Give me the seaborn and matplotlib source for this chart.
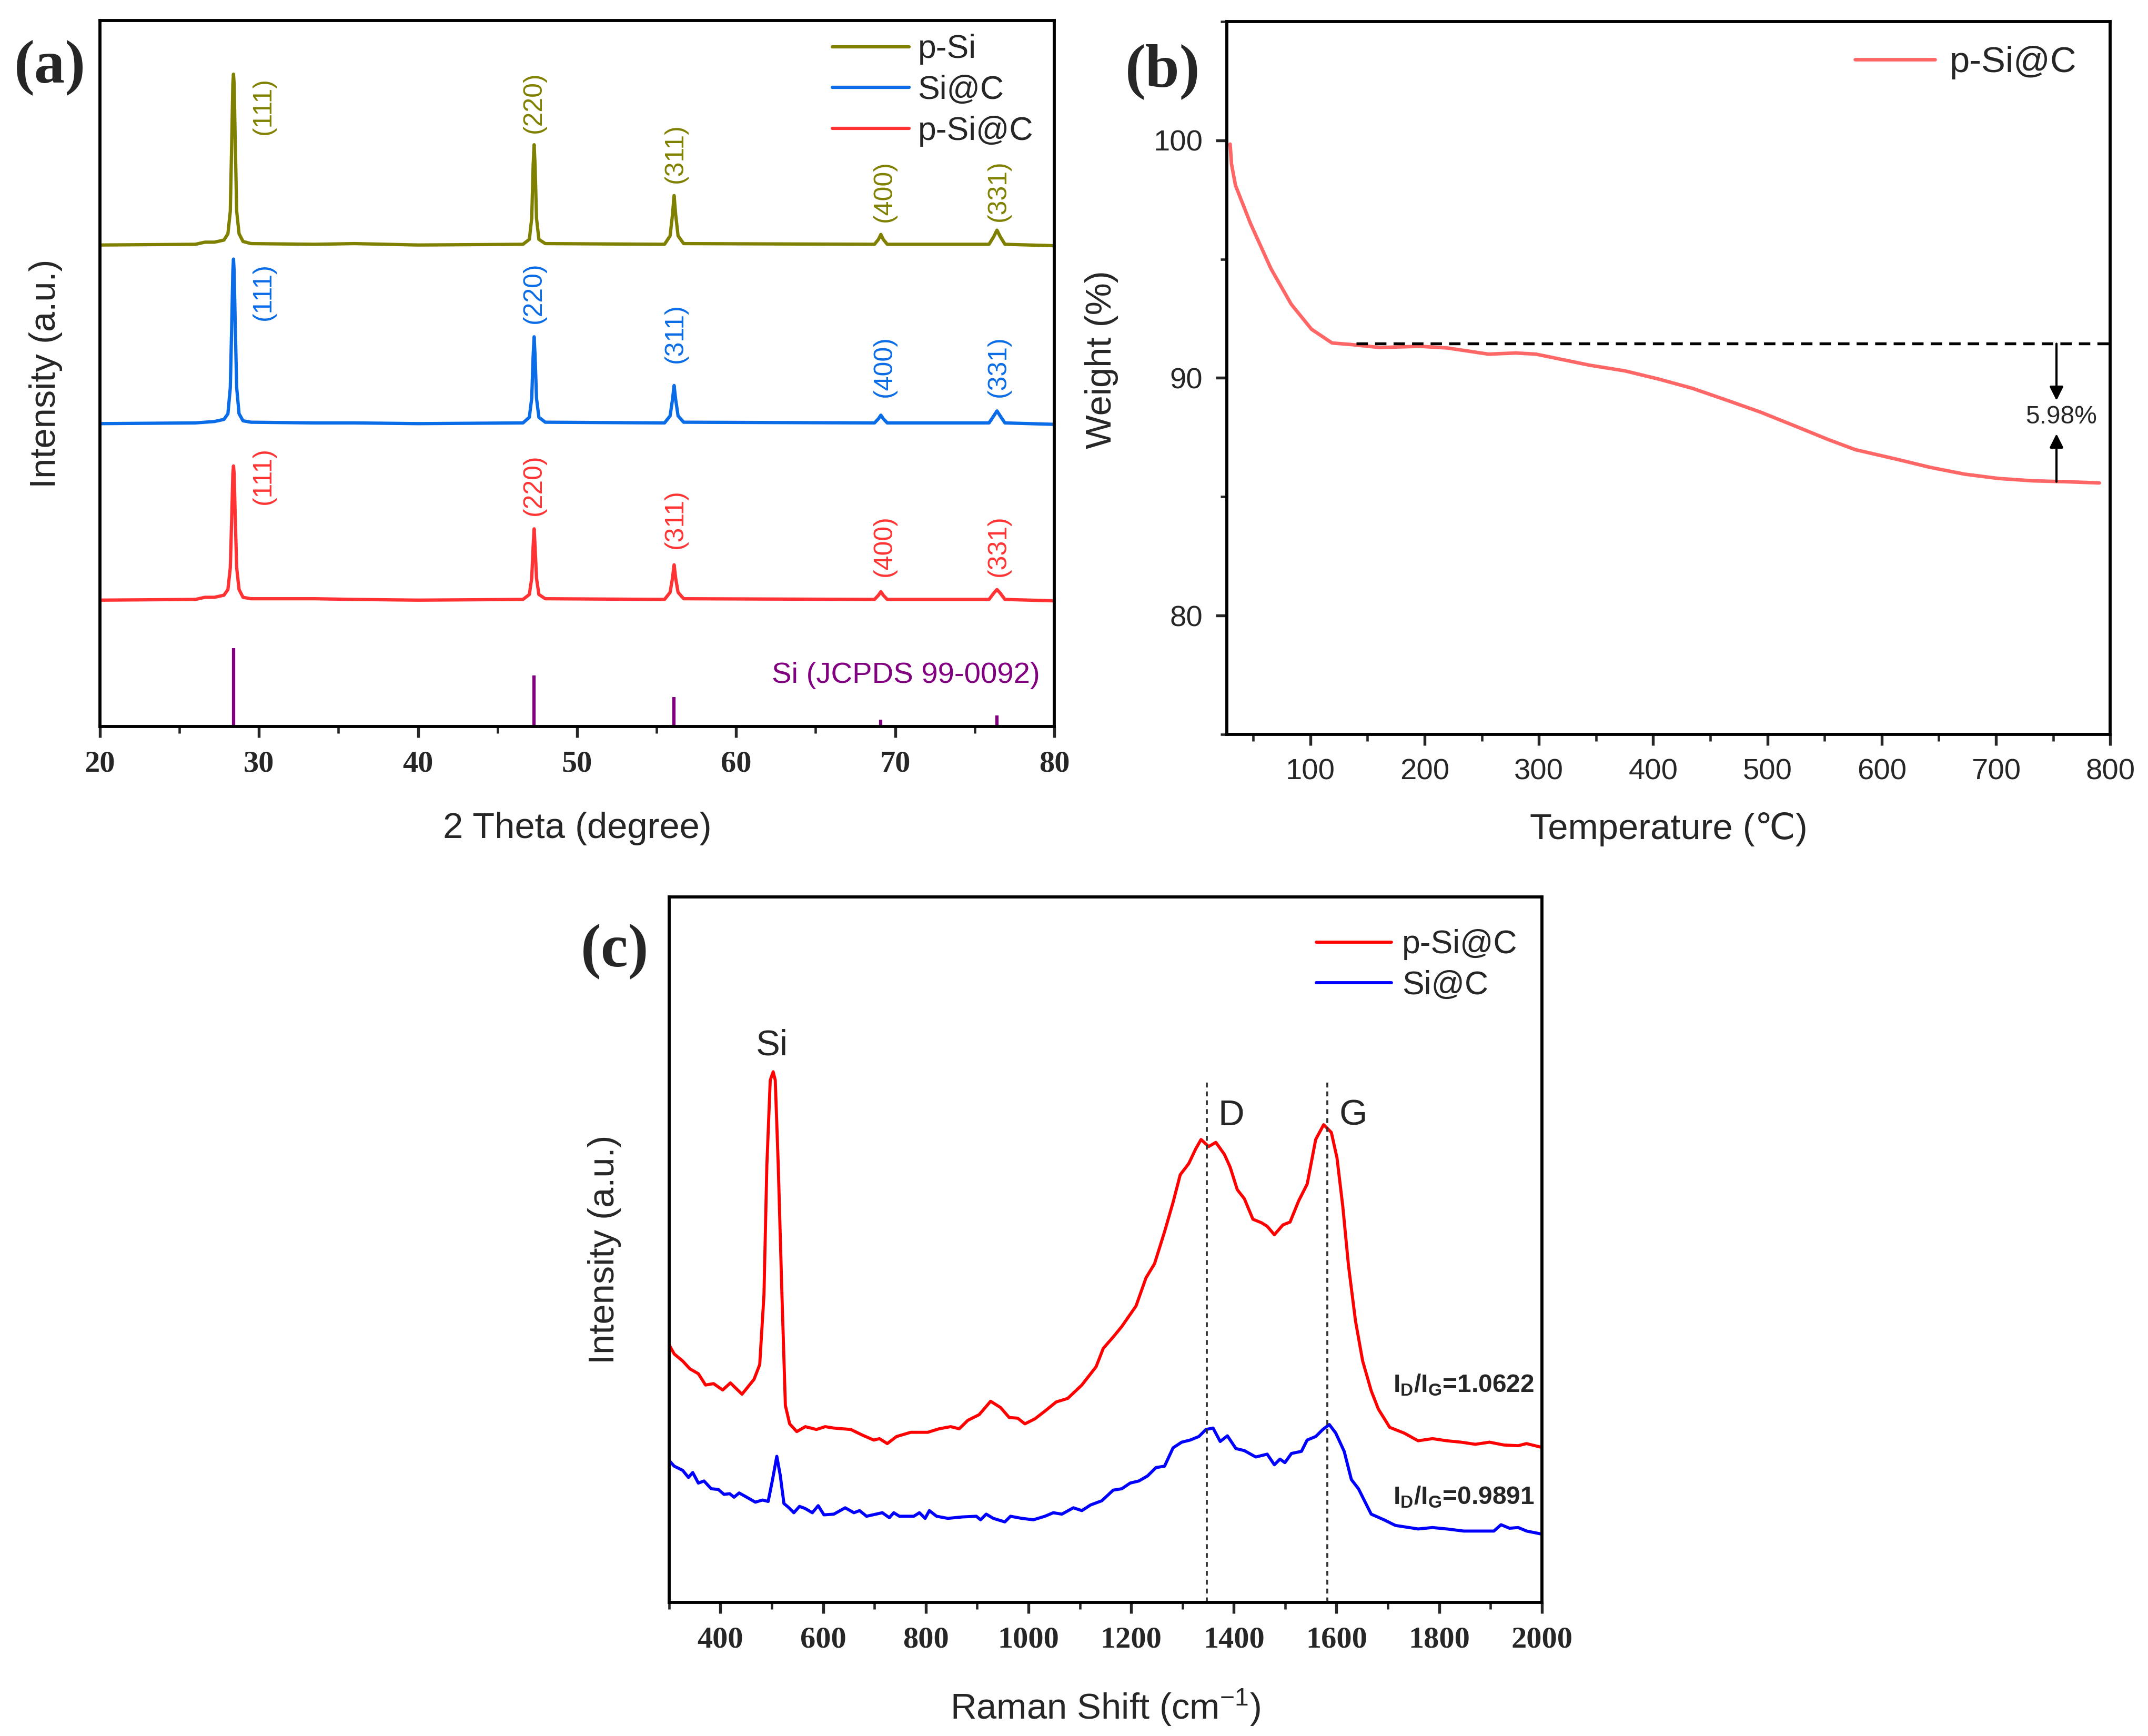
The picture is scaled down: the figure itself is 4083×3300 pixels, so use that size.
import matplotlib
matplotlib.use("Agg")
import matplotlib.pyplot as plt
import seaborn as sns
from matplotlib.ticker import MultipleLocator

# (a) XRD patterns, intensity in arbitrary units (0-100 of the axes)
xrd_2theta = [20.0, 26.0, 26.6, 27.2, 27.8, 28.05, 28.2, 28.3, 28.36, 28.4,
              28.44, 28.5, 28.6, 28.75, 29.0, 29.5, 33.5, 36.0, 40.0, 46.6,
              47.0, 47.15, 47.24, 47.3, 47.36, 47.45, 47.6, 48.0, 55.5, 55.85,
              56.0, 56.1, 56.2, 56.35, 56.7, 68.7, 68.95, 69.1, 69.25, 69.5,
              75.9, 76.2, 76.4, 76.6, 76.9, 80.0]
xrd_psi = [68.2, 68.3, 68.6, 68.6, 68.9, 69.8, 73.0, 84.0, 91.0, 92.4,
           91.0, 84.0, 73.0, 69.8, 68.7, 68.4, 68.3, 68.4, 68.2, 68.3,
           69.0, 72.0, 79.5, 82.4, 79.5, 72.0, 69.0, 68.4, 68.3, 69.5,
           72.5, 75.2, 72.5, 69.5, 68.4, 68.3, 69.0, 69.7, 69.0, 68.3,
           68.3, 69.4, 70.3, 69.4, 68.3, 68.1]
xrd_sic = [42.9, 43.0, 43.1, 43.2, 43.5, 44.3, 48.0, 58.0, 64.5, 66.2,
           64.5, 58.0, 48.0, 44.3, 43.3, 43.1, 43.0, 43.0, 42.9, 43.0,
           43.8, 46.5, 52.5, 55.2, 52.5, 46.5, 43.8, 43.1, 43.0, 44.0,
           46.3, 48.3, 46.3, 44.0, 43.1, 43.0, 43.6, 44.1, 43.6, 43.0,
           43.0, 44.0, 44.7, 44.0, 43.0, 42.8]
xrd_psic = [17.9, 18.0, 18.3, 18.3, 18.6, 19.4, 22.5, 30.5, 35.8, 36.9,
            35.8, 30.5, 22.5, 19.4, 18.3, 18.1, 18.1, 18.0, 17.9, 18.0,
            18.7, 21.0, 25.5, 28.0, 25.5, 21.0, 18.7, 18.1, 18.0, 19.0,
            21.0, 22.9, 21.0, 19.0, 18.1, 18.0, 18.6, 19.1, 18.6, 18.0,
            18.0, 18.9, 19.4, 18.9, 18.0, 17.8]
ref_pos = [28.4, 47.3, 56.1, 69.1, 76.4]
ref_height = [11.1, 7.2, 4.2, 1.0, 1.6]
hkl = ["(111)", "(220)", "(311)", "(400)", "(331)"]
hkl_x = [30.3, 47.3, 56.2, 69.3, 76.5]
hkl_y_psi = [87.9, 88.4, 81.2, 75.8, 75.9]
hkl_y_sic = [61.6, 61.4, 55.7, 51.0, 51.0]
hkl_y_psic = [35.5, 34.2, 29.4, 25.6, 25.6]

# (b) TGA of p-Si@C
tga_temp = [29.8, 31.0, 34.5, 47.6, 65.5, 83.3, 101, 119, 137, 160.7,
            196, 220, 256, 280, 297.6, 345, 375, 405, 434.5, 464,
            494, 524, 553.6, 577, 613, 643, 672.6, 702, 732, 762, 790.5]
tga_weight = [99.84, 99.0, 98.1, 96.5, 94.6, 93.1, 92.05, 91.47, 91.4, 91.28,
              91.33, 91.26, 91.0, 91.05, 91.0, 90.53, 90.3, 89.95, 89.56, 89.07,
              88.56, 87.98, 87.4, 86.98, 86.58, 86.23, 85.95, 85.77, 85.67, 85.63, 85.58]

# (c) Raman spectra, intensity in arbitrary units (0-100 of the axes)
raman_x_psic = [300, 310, 326.5, 340.5, 357, 371, 386.6, 404.3, 419.4, 442,
                465.4, 476.5, 484.8, 490.4, 497, 502.7, 506.8, 512.6, 519.8, 526.5,
                534.8, 548.7, 565.4, 587, 604, 620.9, 654, 676.5, 698.7, 709.7,
                725, 743, 770.8, 804, 826, 848.6, 865, 882, 904, 926.3,
                945.8, 962.4, 979, 993, 1012.4, 1032, 1054, 1076.4, 1104, 1131.8,
                1145.7, 1165, 1181.8, 1209.5, 1229, 1245.6, 1265, 1281.7, 1295.6, 1312.3,
                1326, 1336.2, 1351, 1365, 1381.6, 1392.8, 1406.7, 1420.6, 1437.2, 1454,
                1465, 1479, 1495.7, 1509.6, 1526.3, 1543, 1559.5, 1575, 1590, 1601,
                1612.3, 1623.3, 1637, 1651, 1667.6, 1681.5, 1703.7, 1731.5, 1759, 1787,
                1815, 1842.7, 1870.5, 1898, 1926, 1954, 1970, 1998]
raman_i_psic = [36.5, 35.2, 34.2, 33.1, 32.4, 30.8, 31.0, 30.1, 31.1, 29.5,
                31.6, 33.7, 43.6, 61.9, 74.0, 75.2, 74.0, 61.9, 43.6, 27.9,
                25.3, 24.2, 24.9, 24.5, 24.9, 24.7, 24.5, 23.7, 23.0, 23.2,
                22.5, 23.5, 24.1, 24.1, 24.6, 24.9, 24.6, 25.8, 26.6, 28.5,
                27.6, 26.2, 26.1, 25.3, 26.0, 27.1, 28.4, 28.9, 30.8, 33.4,
                36.0, 37.6, 39.1, 42.0, 46.0, 48.0, 52.5, 56.7, 60.6, 62.2,
                64.3, 65.6, 64.6, 65.2, 63.5, 61.7, 58.5, 57.2, 54.3, 53.8,
                53.3, 52.1, 53.5, 53.9, 56.9, 59.3, 65.6, 67.7, 66.6, 63.0,
                56.1, 47.8, 39.9, 34.2, 30.0, 27.4, 24.8, 24.0, 22.9, 23.2,
                22.9, 22.7, 22.4, 22.7, 22.3, 22.2, 22.5, 22.0]
raman_x_sic = [300, 310, 326.5, 337.7, 346, 357, 368, 382, 395.8, 407,
               418, 426.5, 436.4, 448.8, 468, 482, 493, 501.5, 509.8, 516.5,
               523.7, 532, 543, 554, 565, 579, 590.4, 601.6, 620.9, 643,
               660, 671, 684.6, 715.3, 729, 737.6, 748.6, 776.5, 787.6, 798.7,
               807, 821, 843, 870.6, 898.4, 906.7, 917.7, 931.5, 954, 965,
               987, 1009.6, 1032, 1048.5, 1065, 1087.5, 1104, 1121, 1143, 1165,
               1181.8, 1198, 1215, 1231.7, 1248.5, 1265.1, 1281.7, 1298.5, 1315, 1331.9,
               1345.8, 1359.6, 1373.5, 1387.5, 1404, 1420.6, 1442.8, 1465, 1479, 1490,
               1499.5, 1512.3, 1531.8, 1542.8, 1559.5, 1573.4, 1586, 1598.5, 1615, 1629,
               1642.8, 1667.6, 1692.5, 1714.7, 1759, 1787, 1815, 1848, 1881.7, 1906.5,
               1920.5, 1937, 1954, 1970.5, 1998]
raman_i_sic = [20.1, 19.3, 18.7, 17.7, 18.4, 16.9, 17.2, 16.1, 16.0, 15.3,
               15.4, 14.9, 15.5, 15.0, 14.2, 14.5, 14.3, 17.4, 20.7, 18.0,
               14.0, 13.5, 12.7, 13.6, 13.3, 12.7, 13.7, 12.4, 12.5, 13.4,
               12.7, 13.0, 12.2, 12.7, 12.0, 12.7, 12.2, 12.2, 12.7, 11.9,
               13.0, 12.2, 11.9, 12.1, 12.2, 11.7, 12.5, 11.9, 11.4, 12.2,
               11.9, 11.7, 12.2, 12.7, 12.5, 13.4, 13.0, 13.8, 14.4, 15.9,
               16.1, 16.9, 17.2, 17.9, 19.1, 19.3, 21.9, 22.7, 23.0, 23.5,
               24.5, 24.7, 22.8, 23.6, 21.8, 21.5, 20.6, 21.0, 19.5, 20.3,
               19.8, 21.1, 21.4, 23.0, 23.5, 24.5, 25.2, 24.0, 21.4, 17.4,
               16.1, 12.5, 11.7, 10.9, 10.4, 10.6, 10.4, 10.1, 10.1, 10.1,
               11.0, 10.5, 10.6, 10.1, 9.7]
band_pos = [1347, 1582]
ratio_text = [r"I$_\mathbf{D}$/I$_\mathbf{G}$=1.0622", r"I$_\mathbf{D}$/I$_\mathbf{G}$=0.9891"]
ratio_y = [29.8, 13.9]

sns.set_style("ticks")
plt.rcParams["font.family"] = ["Liberation Sans", "DejaVu Sans"]
plt.rcParams["mathtext.fontset"] = "custom"
plt.rcParams["mathtext.rm"] = "Liberation Sans"
plt.rcParams["mathtext.it"] = "Liberation Sans:italic"
plt.rcParams["mathtext.bf"] = "Liberation Sans:bold"
plt.rcParams["axes.linewidth"] = 1.4

SERIF = "Liberation Serif"
c_olive, c_blue, c_red = "#808000", "#0A6CE6", "#FF3333"

fig = plt.figure(figsize=(4083 / 300, 3300 / 300), dpi=300)
ax_a = fig.add_axes([0.0465, 0.5815, 0.4443, 0.4067])
ax_b = fig.add_axes([0.5712, 0.577, 0.4112, 0.4106])
ax_c = fig.add_axes([0.3115, 0.077, 0.4063, 0.4064])

for ax in (ax_a, ax_b, ax_c):
    for sp in ax.spines.values():
        sp.set_visible(True)
        sp.set_linewidth(1.4)
        sp.set_color("black")

# ---------- (a) ----------
sns.lineplot(x=xrd_2theta, y=xrd_psi, ax=ax_a, color=c_olive, lw=1.5,
             label="p-Si", estimator=None, sort=False)
sns.lineplot(x=xrd_2theta, y=xrd_sic, ax=ax_a, color=c_blue, lw=1.5,
             label="Si@C", estimator=None, sort=False)
sns.lineplot(x=xrd_2theta, y=xrd_psic, ax=ax_a, color=c_red, lw=1.5,
             label="p-Si@C", estimator=None, sort=False)
ax_a.vlines(ref_pos, 0, ref_height, color="#800080", lw=1.5)
ax_a.text(79.1, 7.2, "Si (JCPDS 99-0092)", color="#800080", fontsize=13.5,
          ha="right", va="center")
for ys, col in ((hkl_y_psi, c_olive), (hkl_y_sic, c_blue), (hkl_y_psic, c_red)):
    for lab, xx, yy in zip(hkl, hkl_x, ys):
        ax_a.text(xx, yy, lab, color=col, fontsize=12, rotation=90,
                  ha="center", va="center")
ax_a.set_xlim(20, 80)
ax_a.set_ylim(0, 100)
ax_a.set_xticks([20, 30, 40, 50, 60, 70, 80],
                labels=["20", "30", "40", "50", "60", "70", "80"],
                fontfamily=SERIF, fontweight="bold", fontsize=14)
ax_a.xaxis.set_minor_locator(MultipleLocator(5))
ax_a.set_yticks([])
ax_a.tick_params(axis="x", which="major", direction="out", length=5, width=1.3, pad=6)
ax_a.tick_params(axis="x", which="minor", direction="out", length=3, width=1.1)
ax_a.set_xlabel("2 Theta (degree)", fontsize=16.5)
ax_a.set_ylabel("Intensity (a.u.)", fontsize=16.5)
ax_a.xaxis.set_label_coords(0.5, -0.121)
ax_a.yaxis.set_label_coords(-0.039, 0.5)
ax_a.legend(loc="upper right", bbox_to_anchor=(0.978, 0.981), frameon=False,
            fontsize=15, handlelength=2.34, handletextpad=0.26,
            labelspacing=0.3, borderpad=0, borderaxespad=0)

# ---------- (b) ----------
sns.lineplot(x=tga_temp, y=tga_weight, ax=ax_b, color="#FF6666", lw=1.6,
             label="p-Si@C", estimator=None, sort=False)
ax_b.hlines(91.44, 140, 800, color="black", lw=1.3, linestyles=(0, (4, 2.5)))
ax_b.annotate("", xy=(753, 89.05), xytext=(753, 91.44),
              arrowprops=dict(arrowstyle="-|>", color="black", lw=1.0,
                              mutation_scale=13, shrinkA=0, shrinkB=0))
ax_b.annotate("", xy=(753, 87.65), xytext=(753, 85.63),
              arrowprops=dict(arrowstyle="-|>", color="black", lw=1.0,
                              mutation_scale=13, shrinkA=0, shrinkB=0))
ax_b.text(757, 88.35, "5.98%", fontsize=11.5, ha="center", va="center")
ax_b.set_xlim(27, 800)
ax_b.set_ylim(75, 105)
ax_b.set_xticks([100, 200, 300, 400, 500, 600, 700, 800])
ax_b.xaxis.set_minor_locator(MultipleLocator(50))
ax_b.set_yticks([80, 90, 100])
ax_b.yaxis.set_minor_locator(MultipleLocator(5))
ax_b.tick_params(which="major", direction="out", length=5, width=1.3,
                 labelsize=13.5, pad=6)
ax_b.tick_params(which="minor", direction="out", length=3, width=1.1)
ax_b.set_xlabel("Temperature (℃)", fontsize=16.5)
ax_b.set_ylabel("Weight (%)", fontsize=16.5)
ax_b.xaxis.set_label_coords(0.5, -0.109)
ax_b.yaxis.set_label_coords(-0.123, 0.526)
ax_b.legend(loc="upper right", bbox_to_anchor=(0.962, 0.966), frameon=False,
            fontsize=16.5, handlelength=2.22, handletextpad=0.4,
            borderpad=0, borderaxespad=0)

# ---------- (c) ----------
sns.lineplot(x=raman_x_psic, y=raman_i_psic, ax=ax_c, color="#FF0000", lw=1.4,
             label="p-Si@C", estimator=None, sort=False)
sns.lineplot(x=raman_x_sic, y=raman_i_sic, ax=ax_c, color="#0000FF", lw=1.4,
             label="Si@C", estimator=None, sort=False)
ax_c.vlines(band_pos, 0, 74, color="#333333", lw=0.9, linestyles=(0, (2.5, 2)))
ax_c.text(500, 78.9, "Si", fontsize=16.5, ha="center", va="center")
ax_c.text(1395, 69.0, "D", fontsize=16.5, ha="center", va="center")
ax_c.text(1633, 69.0, "G", fontsize=16.5, ha="center", va="center")
for txt, yy in zip(ratio_text, ratio_y):
    ax_c.text(1710, yy, txt, fontsize=11.5, fontweight="bold",
              ha="left", va="baseline")
ax_c.set_xlim(300, 2000)
ax_c.set_ylim(0, 100)
ax_c.set_xticks(list(range(400, 2001, 200)),
                labels=[str(v) for v in range(400, 2001, 200)],
                fontfamily=SERIF, fontweight="bold", fontsize=14)
ax_c.xaxis.set_minor_locator(MultipleLocator(100))
ax_c.set_yticks([])
ax_c.tick_params(axis="x", which="major", direction="out", length=5, width=1.3, pad=6)
ax_c.tick_params(axis="x", which="minor", direction="out", length=3, width=1.1)
ax_c.set_xlabel(r"Raman Shift (cm$^{-1}$)", fontsize=16.5)
ax_c.set_ylabel("Intensity (a.u.)", fontsize=16.5)
ax_c.xaxis.set_label_coords(0.5, -0.121)
ax_c.yaxis.set_label_coords(-0.055, 0.5)
ax_c.legend(loc="upper right", bbox_to_anchor=(0.972, 0.954), frameon=False,
            fontsize=15, handlelength=2.29, handletextpad=0.32,
            labelspacing=0.29, borderpad=0, borderaxespad=0)

# panel letters
for xx, yy, lab in ((0.0233, 0.9612, "(a)"), (0.5413, 0.9588, "(b)"), (0.2861, 0.4521, "(c)")):
    fig.text(xx, yy, lab, fontsize=28, fontweight="bold", fontfamily=SERIF,
             ha="center", va="center")

fig.savefig("out.png", dpi=300, facecolor="white")
